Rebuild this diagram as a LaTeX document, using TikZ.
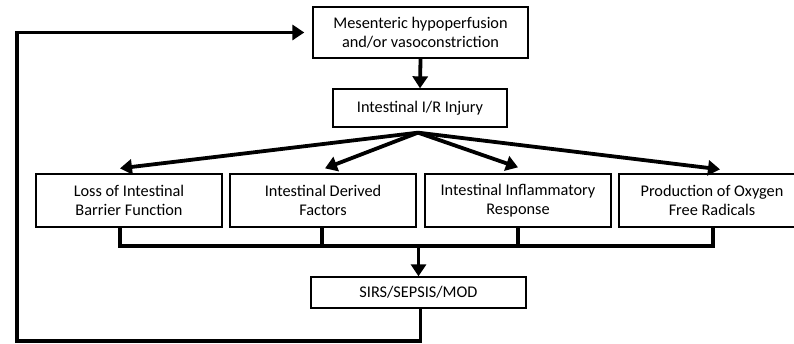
\documentclass[tikz,border=0pt]{standalone}
\usepackage{fontspec}
\setmainfont{Carlito}
\usetikzlibrary{positioning, calc, arrows.meta}
\tikzset{
	box/.style={draw, line width=1.3pt, rectangle, align=center, inner sep=2pt,
		font=\fontsize{16.3}{19}\selectfont},
	flow/.style={line width=3.8pt, -{Triangle[length=12pt, width=15pt]}},
	bus/.style={line width=3.8pt, line cap=rect},
}

\begin{document}
\begin{tikzpicture}[x=1pt, y=-1pt]
		\useasboundingbox (0,0) rectangle (794,344);

		\node[box, minimum width=215pt, minimum height=51pt] (hypo) at (420.5,32.5) {Mesenteric hypoperfusion\\and/or vasoconstriction};
		\node[box, minimum width=174pt, minimum height=38pt] (injury) at (420,108) {Intestinal I/R Injury};

		\node[box, minimum width=186pt, minimum height=53pt] (barrier) at (129,200.5) {Loss of Intestinal\\Barrier Function};
		\node[box, minimum width=186pt, minimum height=53pt] (factors) at (323,200.5) {Intestinal Derived\\Factors};
		\node[box, minimum width=186pt, minimum height=53pt] (inflam) at (518,200.5) {Intestinal Inflammatory\\Response};
		\node[box, minimum width=186pt, minimum height=53pt] (radicals) at (712,200.5) {Production of Oxygen\\Free Radicals};

		\node[box, minimum width=215pt, minimum height=31pt] (sirs) at (418.5,292.5) {SIRS/SEPSIS/MOD};

		% hypoperfusion to injury, then the fan
		\draw[flow] (hypo.south) -- (injury.north);
		\coordinate (fan) at ($(injury.south)+(-2,5)$);
		\draw[flow] (fan) -- ($(barrier.north)+(-9,-5)$);
		\draw[flow] (fan) -- ($(factors.north)+(2,-5)$);
		\draw[flow] (fan) -- ($(inflam.north)+(0,-6)$);
		\draw[flow] (fan) -- ($(radicals.north)+(8,-4)$);

		% collecting line into SIRS
		\coordinate (busL) at ($(barrier.south)+(-9,18)$);
		\coordinate (busR) at ($(radicals.south)+(1,18)$);
		\draw[bus] ($(barrier.south)+(-9,0)$) -- (busL) -- (busR) -- ($(radicals.south)+(1,0)$);
		\draw[bus] ($(factors.south)+(-1,0)$) -- ($(factors.south)+(-1,18)$);
		\draw[bus] (inflam.south) -- ($(inflam.south)+(0,18)$);
		\draw[flow] (sirs.north |- busL) -- (sirs.north);

		% feedback loop
		\coordinate (loop) at (17,341);
		\draw[flow] ($(sirs.south)+(2,0)$) |- (loop) |- ($(hypo.west)+(-8,0)$);
	\end{tikzpicture}
\end{document}
